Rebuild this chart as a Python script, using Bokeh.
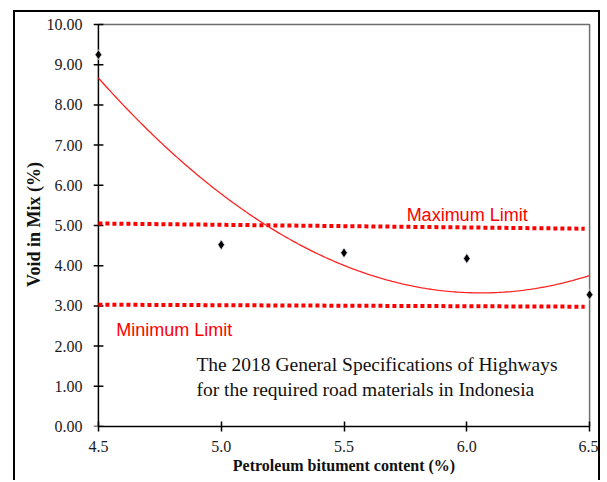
import numpy as np
from bokeh.plotting import figure
from bokeh.models import (Range1d, FixedTicker, NumeralTickFormatter, Label,
                          ColumnDataSource)
from bokeh.embed import file_html
from bokeh.resources import INLINE

# Data
bitumen = [4.5, 5.0, 5.5, 6.0, 6.5]
void_in_mix = [9.25, 4.52, 4.32, 4.18, 3.28]
max_limit_x = [4.5, 6.48]
max_limit_y = [5.05, 4.92]
min_limit_x = [4.5, 6.48]
min_limit_y = [3.03, 2.98]
x_ticks = [4.5, 5.0, 5.5, 6.0, 6.5]
y_ticks = [0, 1, 2, 3, 4, 5, 6, 7, 8, 9, 10]

# quadratic trendline (least squares like Excel)
coef = np.polyfit(bitumen, void_in_mix, 2)
xs = np.linspace(x_ticks[0], x_ticks[-1], 200)
ys = np.polyval(coef, xs)

pad = 0.02
p = figure(width=587, height=470, output_backend="svg", toolbar_location=None,
           x_range=Range1d(x_ticks[0] - pad, x_ticks[-1] + pad),
           y_range=Range1d(y_ticks[0], y_ticks[-1] + 0.05),
           min_border_left=78, min_border_right=8, min_border_top=10,
           min_border_bottom=56)
p.margin = (10, 0, 0, 13)
p.styles = {"border-top": "2px solid black", "border-left": "2px solid black",
            "border-right": "2px solid black"}
p.grid.visible = False
p.background_fill_color = "white"
p.border_fill_color = "white"
p.outline_line_color = None

serif = "Liberation Serif"
for ax in (p.xaxis[0], p.yaxis[0]):
    ax.minor_tick_line_color = None
    ax.major_label_text_font = serif
    ax.major_label_text_font_size = "16px"
    ax.major_label_text_color = "#1a1a1a"
    ax.axis_label_text_font = serif
    ax.axis_label_text_font_style = "bold"
    ax.axis_label_text_color = "#111111"

p.xaxis.axis_line_color = "black"
p.xaxis.axis_line_width = 1.5
p.xaxis.major_tick_line_color = "black"
p.xaxis.major_tick_line_width = 1.5
p.xaxis.major_tick_in = 5
p.xaxis.major_tick_out = 5
p.xaxis.ticker = FixedTicker(ticks=x_ticks)
p.xaxis.bounds = (x_ticks[0], x_ticks[-1])
p.xaxis.formatter = NumeralTickFormatter(format="0.0")
p.xaxis.major_label_standoff = 9
p.xaxis.axis_label = "Petroleum bitument content (%)"
p.xaxis.axis_label_text_font_size = "16px"
p.xaxis.axis_label_standoff = 2

# y axis: labels only (line and ticks drawn at x = 4.5 below)
p.yaxis.axis_line_color = None
p.yaxis.major_tick_line_color = None
p.yaxis.major_tick_in = 0
p.yaxis.major_tick_out = 0
p.yaxis.ticker = FixedTicker(ticks=y_ticks)
p.yaxis.formatter = NumeralTickFormatter(format="0.00")
p.yaxis.major_label_standoff = 11
p.yaxis.axis_label = "Void in Mix (%)"
p.yaxis.axis_label_text_font_size = "18px"
p.yaxis.axis_label_standoff = 0

# grey plot-area frame (top and right edges)
p.line([x_ticks[0], x_ticks[-1], x_ticks[-1]], [y_ticks[-1], y_ticks[-1], y_ticks[0]],
       line_color="#6e6e6e", line_width=1.5)
# y axis line and crossing ticks at x = 4.5
p.line([x_ticks[0], x_ticks[0]], [y_ticks[0], y_ticks[-1]], line_color="black",
       line_width=1.5)
p.scatter([x_ticks[0]] * len(y_ticks), y_ticks, marker="dash", size=10,
          line_color="black", line_width=1.5)

# limit lines
p.line(max_limit_x, max_limit_y, line_color="red", line_width=4, line_dash="4 3")
p.line(min_limit_x, min_limit_y, line_color="red", line_width=4, line_dash="4 3")

# trendline
p.line(xs, ys, line_color="#ff2020", line_width=1.3)

# points
src = ColumnDataSource(dict(x=bitumen, y=void_in_mix))
p.scatter("x", "y", source=src, marker="diamond", size=10, fill_color="black",
          line_color="#dfe6ee", line_width=0.8)

sans = "Liberation Sans"
p.add_layout(Label(x=5.755, y=5.26, text="Maximum Limit", text_color="red",
                   text_font=sans, text_font_size="18px", text_baseline="alphabetic"))
p.add_layout(Label(x=4.573, y=2.40, text="Minimum Limit", text_color="red",
                   text_font=sans, text_font_size="18px", text_baseline="alphabetic"))
p.add_layout(Label(x=4.899, y=1.53, text="The 2018 General Specifications of Highways",
                   text_color="#111111", text_font=serif, text_font_size="19.5px",
                   text_baseline="alphabetic"))
p.add_layout(Label(x=4.899, y=0.93, text="for the required road materials in Indonesia",
                   text_color="#111111", text_font=serif, text_font_size="19.5px",
                   text_baseline="alphabetic"))

open("out.html", "w").write(file_html(p, INLINE))
